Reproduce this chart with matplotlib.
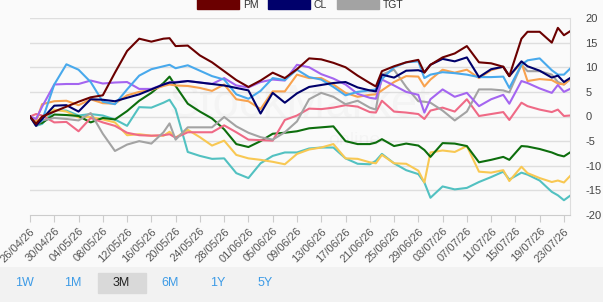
import matplotlib
matplotlib.use("Agg")
import matplotlib.pyplot as plt
import matplotlib.dates as mdates
import pandas as pd
import numpy as np

plt.rcParams['font.family'] = ['Liberation Sans', 'DejaVu Sans']

start_date = "2026-04-26"
day_offsets = [0, 1, 2, 4, 6, 8, 10, 12, 14, 16, 18, 20, 22, 23, 24, 26, 28, 30, 32, 34, 36, 38, 40, 42,
               44, 46, 48, 50, 52, 54, 56, 57, 58, 60, 62, 64, 65, 66, 68, 70, 72, 74, 76, 78, 79, 81,
               82, 84, 86, 87, 88, 89]

pm = [0, -1.5, 0, 1.0, 2.0, 3.0, 3.9, 4.3, 8.9, 13.3, 15.8, 15.2, 15.8, 15.9, 14.3, 14.4, 12.4, 11.0,
      9.2, 7.4, 6.0, 7.3, 8.9, 7.8, 9.6, 11.8, 11.6, 10.9, 10.0, 8.3, 6.8, 6.1, 9.2, 10.2, 11.0, 11.5,
      8.9, 10.5, 12.0, 12.8, 14.3, 11.0, 10.8, 10.1, 8.2, 15.8, 17.2, 17.2, 15.0, 18.0, 16.5, 17.3]
cl = [0, -1.9, -0.5, 2.2, 2.3, 1.0, 3.5, 3.4, 3.1, 3.8, 4.5, 5.5, 6.5, 6.9, 6.9, 7.2, 6.9, 6.6, 6.3,
      5.8, 5.3, 0.6, 4.8, 2.8, 4.7, 6.0, 6.4, 6.8, 7.0, 5.9, 5.3, 5.1, 8.5, 7.9, 9.3, 9.4, 9.0, 10.5,
      11.7, 11.2, 12.0, 8.0, 9.6, 10.1, 8.2, 11.2, 10.2, 9.3, 7.9, 8.3, 7.0, 7.8]
tgt = [0, -1.9, -0.8, -0.3, -0.5, -0.8, 0.7, -3.5, -7.0, -5.7, -5.0, -5.5, -3.2, -1.4, -4.7, -2.2,
       -2.2, -2.2, -0.1, -2.0, -3.3, -4.2, -4.7, -3.2, -1.0, 3.5, 4.8, 4.0, 2.5, 3.2, 1.8, 1.4, 8.5,
       9.5, 6.0, 3.1, 3.0, 2.8, 1.2, -0.8, 1.0, 5.5, 5.5, 5.3, 4.9, 10.5, 9.2, 9.2, 8.5, 7.0, 6.5, 7.5]
s_lightblue = [0, -1.5, -0.8, 6.5, 10.6, 9.5, 7.0, 3.0, 2.5, 5.5, 8.3, 9.6, 10.2, 10.5, 9.8, 10.4,
               9.3, 8.2, 7.5, 4.5, 3.6, 5.2, 7.8, 7.4, 9.5, 8.0, 7.5, 6.0, 4.3, 5.0, 5.3, 5.5, 7.6,
               10.0, 11.0, 11.2, 7.8, 8.5, 9.0, 8.8, 8.5, 8.0, 8.0, 8.1, 5.8, 10.5, 11.4, 11.8, 9.4,
               8.5, 8.5, 9.7]
s_purple = [0, -0.5, 2.0, 6.5, 6.6, 6.6, 7.3, 6.7, 6.9, 7.0, 5.6, 5.6, 6.5, 6.9, 7.0, 7.2, 6.9, 6.6,
            7.8, 6.3, 5.9, 7.0, 7.5, 7.3, 10.5, 10.0, 8.6, 7.7, 6.5, 4.6, 3.8, 3.6, 7.5, 6.3, 5.0,
            4.4, 0.8, 3.5, 5.5, 4.0, 4.8, 2.1, 3.5, 4.4, 2.6, 7.2, 6.8, 5.7, 4.8, 6.4, 5.0, 5.6]
s_orange = [0, -1.0, 2.5, 3.1, 3.2, 2.3, 3.5, 2.7, 2.6, 4.3, 5.0, 5.4, 6.2, 6.5, 6.3, 6.2, 5.8, 5.2,
            6.5, 3.5, 3.1, 1.5, 5.1, 5.1, 8.5, 7.8, 7.8, 6.5, 4.8, 4.0, 4.4, 4.5, 5.3, 7.0, 8.2, 8.1,
            6.1, 7.5, 9.5, 8.9, 9.5, 7.8, 9.4, 10.1, 8.2, 10.9, 7.2, 7.6, 7.4, 6.7, 6.5, 7.6]
s_pink = [0, 0.5, 0.2, -1.2, -1.1, -3.0, -0.3, -1.2, -1.9, -3.3, -3.8, -3.9, -3.8, -3.6, -4.3, -3.2,
          -3.2, -3.2, -1.8, -3.2, -4.7, -4.8, -4.9, -0.7, 0.2, 1.6, 1.5, 1.8, 2.3, 2.0, 0.9, 0.8,
          3.2, 1.0, 0.8, 0.5, -0.5, 1.2, 1.8, 1.0, 3.5, 0.1, 0.5, 0.9, -0.7, 2.8, 2.1, 1.4, 0.9,
          1.4, 0.1, 0.2]
s_green = [0, -1.6, -1.3, 0.4, 0.3, 0.1, -1.2, -0.3, -0.6, 1.1, 3.2, 4.8, 6.8, 8.1, 6.2, 2.6, 1.0,
           -0.4, -2.6, -5.6, -6.2, -5.0, -3.5, -3.3, -3.0, -2.4, -2.2, -2.0, -5.0, -5.6, -5.6, -5.3,
           -4.6, -6.0, -5.5, -5.9, -6.8, -8.2, -5.4, -5.5, -6.0, -9.3, -8.8, -8.2, -8.8, -6.0, -6.1,
           -6.6, -7.3, -7.8, -8.1, -7.3]
s_teal = [0, -1.9, -1.5, 1.3, 1.2, 0.2, 0.5, 0.2, -0.6, -1.9, 1.9, 1.8, 2.8, 3.4, 1.5, -7.2, -8.0,
          -8.6, -8.5, -11.5, -12.5, -9.5, -8.0, -7.3, -7.3, -6.5, -6.3, -6.3, -8.5, -9.6, -9.7, -9.0,
          -7.6, -9.5, -10.9, -11.7, -13.4, -16.5, -14.2, -14.8, -14.5, -13.3, -12.3, -11.2, -12.8,
          -11.4, -11.8, -13.0, -15.3, -16.0, -17.0, -16.1]
s_yellow = [0, -1.2, -0.5, 1.4, 1.0, -0.2, -0.1, -0.6, -1.2, -3.8, -3.6, -3.9, -3.9, -3.1, -4.3, -2.7,
            -4.2, -5.9, -4.9, -7.8, -8.5, -8.8, -9.2, -9.7, -7.6, -6.7, -6.3, -5.6, -8.5, -8.6, -9.3,
            -9.5, -7.8, -9.5, -9.6, -11.0, -13.4, -7.3, -6.9, -7.2, -6.0, -11.2, -11.4, -10.9, -13.1,
            -10.2, -11.5, -12.5, -13.3, -13.0, -13.4, -12.1]

legend_names = ["PM", "CL", "TGT"]
y_ticks = [-20, -15, -10, -5, 0, 5, 10, 15, 20]
buttons = ["1W", "1M", "3M", "6M", "1Y", "5Y"]
selected_button = "3M"

dates = pd.Timestamp(start_date) + pd.to_timedelta(day_offsets, unit="D")

series = [
    (s_teal, "#52c1c1"),
    (s_yellow, "#f8c853"),
    (s_green, "#0d6e0d"),
    (s_pink, "#ef6a86"),
    (tgt, "#a3a3a3"),
    (s_orange, "#f8a24e"),
    (s_purple, "#a465f0"),
    (s_lightblue, "#48a9ec"),
    (cl, "#00006b"),
    (pm, "#6b0000"),
]

W, H = 603, 302
fig = plt.figure(figsize=(W / 100, H / 100), dpi=100)
fig.patch.set_facecolor("#fafafa")

# bottom button strip
strip = fig.add_axes([0, 0, 1, 35 / H])
strip.set_xlim(0, W)
strip.set_ylim(0, 35)
strip.axis("off")
strip.add_patch(plt.Rectangle((0, 0), W, 35, color="#f2f2f2", zorder=0))
bx = [24, 73, 121, 170, 218, 265]
for name, x in zip(buttons, bx):
    if name == selected_button:
        strip.add_patch(plt.Rectangle((x - 23.5, 9), 48, 20, color="#d9d9d9", zorder=1))
        strip.text(x, 19, name, ha="center", va="center", fontsize=9, color="#222222", zorder=2)
    else:
        strip.text(x, 19, name, ha="center", va="center", fontsize=9, color="#3d9be6", zorder=2)

ax = fig.add_axes([30 / W, (H - 215) / H, 540 / W, 197 / H])
ax.set_facecolor("#fafafa")

for vals, col in series:
    ax.plot(dates, vals, color=col, lw=1.5, solid_joinstyle="round", zorder=3)

ax.set_ylim(-20, 20)
ax.set_xlim(dates[0], dates[-1])
for yv in y_ticks[1:]:
    ax.axhline(yv, color="#dedede", lw=1, zorder=1)

ax.yaxis.tick_right()
ax.set_yticks(y_ticks)
ax.set_yticklabels([str(v) for v in y_ticks])
ax.tick_params(axis="y", length=0, pad=11, labelsize=8, labelcolor="#444444")

xt = pd.date_range(start_date, periods=23, freq="4D")
ax.set_xticks(xt)
ax.set_xticklabels([d.strftime("%d/%m/%y") for d in xt], rotation=45, ha="right",
                   rotation_mode="anchor")
ax.tick_params(axis="x", length=5, color="#cccccc", labelsize=8, labelcolor="#555555", pad=3)

for s in ["top", "left"]:
    ax.spines[s].set_visible(False)
ax.spines["bottom"].set_color("#cccccc")
ax.spines["right"].set_color("#dddddd")

# watermark
ax.text(0.5, 0.56, "StockMarket", transform=ax.transAxes, ha="center", va="center",
        fontsize=34, color="#000000", alpha=0.022, zorder=2)
ax.text(0.6, 0.38, "online", transform=ax.transAxes, ha="center", va="center",
        fontsize=14, color="#000000", alpha=0.022, zorder=2)

# legend (clipped at the top edge)
lg = fig.add_axes([0, (H - 20) / H, 1, 20 / H])
lg.set_xlim(0, W)
lg.set_ylim(20, 0)
lg.axis("off")
leg_cols = ["#6b0000", "#00006b", "#a3a3a3"]
leg_x = [197, 268, 337]
for name, col, x in zip(legend_names, leg_cols, leg_x):
    lg.add_patch(plt.Rectangle((x, -3), 42, 12.3, color=col))
    lg.text(x + 46, 4.5, name, ha="left", va="center", fontsize=7.5, color="#333333")

fig.savefig("out.png", dpi=100, facecolor=fig.get_facecolor())
